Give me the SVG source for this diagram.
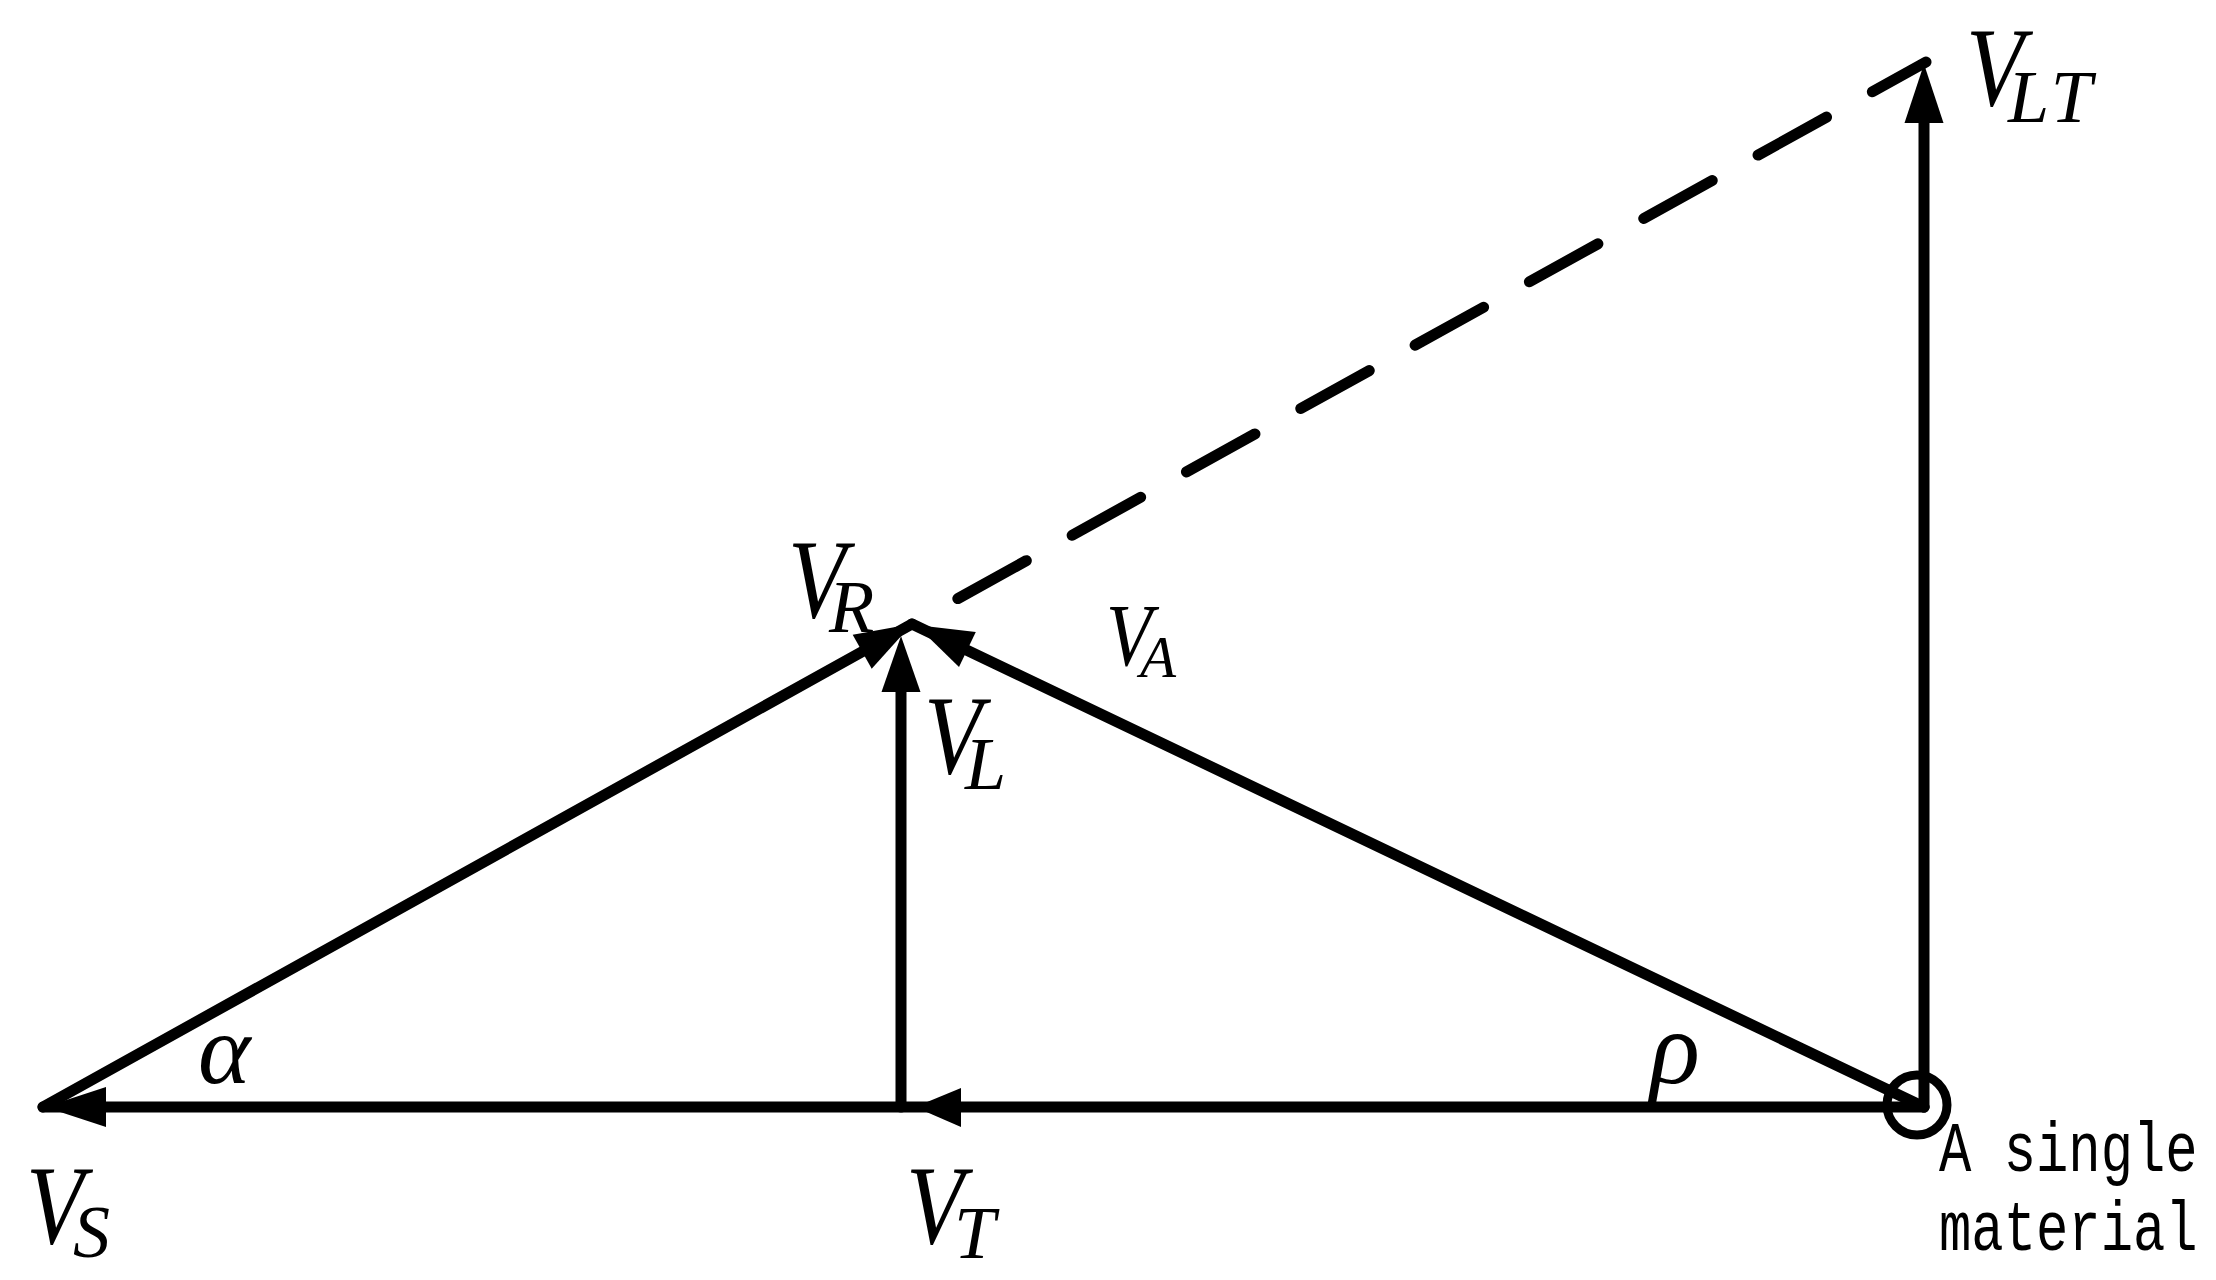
<svg xmlns="http://www.w3.org/2000/svg" width="2216" height="1280" viewBox="0 0 2216 1280">
<style>
.ln{stroke:#000;stroke-width:11;stroke-linecap:round;fill:none}
.dash{stroke:#000;stroke-width:11;stroke-linecap:round;fill:none;stroke-dasharray:78.3 52.4;stroke-dashoffset:78.3}
.ah{fill:#000;stroke:none}
.lab{font-family:"Liberation Serif","Times New Roman",serif;font-style:italic;fill:#000}
.mono{font-family:"Liberation Mono","Courier New",monospace;fill:#000;font-size:55px}
</style>
<rect width="2216" height="1280" fill="#fff"/>
<g id="connectors">
  <line class="ln" x1="1924" y1="1107" x2="43" y2="1107"/>
  <polygon class="ah" points="45,1107 106,1087 106,1127"/>
  <polygon class="ah" points="915,1107 961,1088 961,1127"/>
  <line class="ln" x1="901" y1="1107" x2="901" y2="660"/>
  <polygon class="ah" points="901,636 881.5,692 920.5,692"/>
  <line class="ln" x1="1924" y1="1107" x2="1924" y2="100"/>
  <polygon class="ah" points="1924,64 1904.5,123 1943.5,123"/>
  <line class="ln" x1="43" y1="1107" x2="912" y2="624"/>
  <polygon class="ah" points="912,624 871.7,668.7 852.7,634.7"/>
  <line class="ln" x1="1924" y1="1107" x2="912" y2="624"/>
  <polygon class="ah" points="916,625 975.8,631.9 959,667.1"/>
  <path class="dash" d="M912,624 L1926,62"/>
</g>
<g id="VS">
  <text class="lab" x="26" y="1243"><tspan font-size="113" textLength="58" lengthAdjust="spacingAndGlyphs">V</tspan><tspan dx="-11" dy="14" font-size="74">S</tspan></text>
</g>
<g id="VT">
  <text class="lab" x="906" y="1243"><tspan font-size="113" textLength="58" lengthAdjust="spacingAndGlyphs">V</tspan><tspan dx="-10" dy="15" font-size="74">T</tspan></text>
</g>
<g id="VL">
  <text class="lab" x="924" y="773"><tspan font-size="113" textLength="58" lengthAdjust="spacingAndGlyphs">V</tspan><tspan dx="-17" dy="16" font-size="74">L</tspan></text>
</g>
<g id="VR">
  <text class="lab" x="788" y="617"><tspan font-size="113" textLength="58" lengthAdjust="spacingAndGlyphs">V</tspan><tspan dx="-17" dy="15" font-size="74">R</tspan></text>
</g>
<g id="VA">
  <text class="lab" x="1106" y="665"><tspan font-size="88" textLength="46" lengthAdjust="spacingAndGlyphs">V</tspan><tspan dx="-12" dy="12" font-size="59">A</tspan></text>
</g>
<g id="VLT">
  <text class="lab" x="1966" y="105"><tspan font-size="113" textLength="58" lengthAdjust="spacingAndGlyphs">V</tspan><tspan dx="-16" dy="17" font-size="74" letter-spacing="3">LT</tspan></text>
</g>
<g id="alpha">
  <text class="lab" x="198" y="1083" font-size="100">α</text>
</g>
<g id="rho">
  <text class="lab" x="1650" y="1083" font-size="104">ρ</text>
</g>
<g id="origin">
  <circle cx="1917" cy="1105" r="30" fill="none" stroke="#000" stroke-width="9"/>
  <text class="mono" transform="translate(1939,1171) scale(0.98,1.27)" x="0" y="0">A single</text>
  <text class="mono" transform="translate(1939,1250) scale(0.98,1.27)" x="0" y="0">material</text>
</g>
</svg>
